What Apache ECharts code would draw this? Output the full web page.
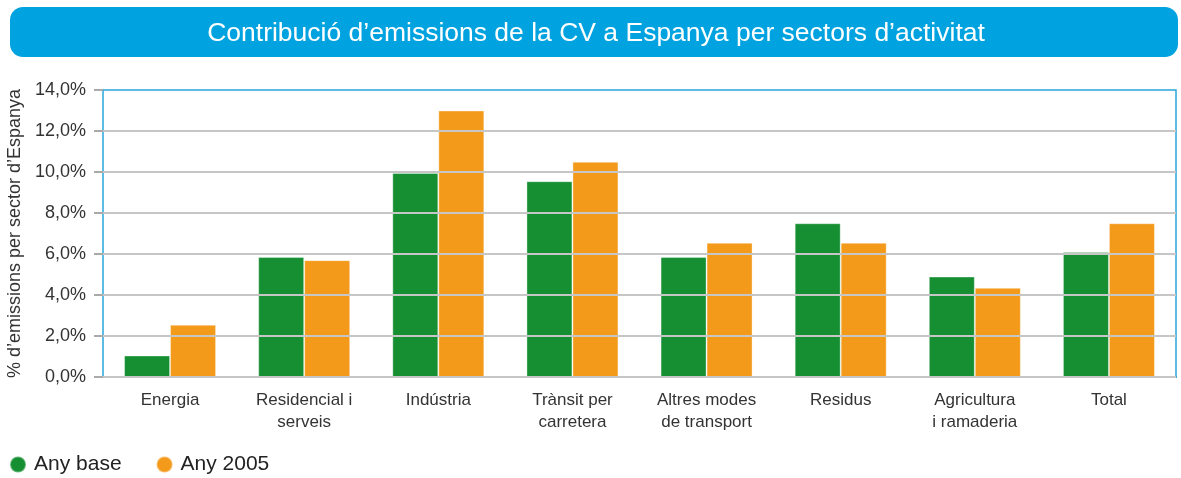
<!DOCTYPE html>
<html>
<head>
<meta charset="utf-8">
<script src="https://cdn.jsdelivr.net/npm/echarts@6/dist/echarts.min.js"></script>
<style>
  html, body { margin: 0; padding: 0; background: #fff; }
  #chart { width: 1181px; height: 478px; }
</style>
</head>
<body>
<div id="chart"></div>
<script>
const titleText = 'Contribució d\u2019emissions de la CV a Espanya per sectors d\u2019activitat'
const yAxisName = '% d\u2019emissions per sector d\u2019Espanya'

const categories = [
  'Energia',
  'Residencial i\nserveis',
  'Indústria',
  'Trànsit per\ncarretera',
  'Altres modes\nde transport',
  'Residus',
  'Agricultura\ni ramaderia',
  'Total'
]
const anyBase = [1.05, 5.85, 9.95, 9.55, 5.85, 7.5, 4.9, 6.1]
const any2005 = [2.55, 5.7, 13.0, 10.5, 6.55, 6.55, 4.35, 7.5]
const yTicks = [0, 2, 4, 6, 8, 10, 12, 14]

const green = '#158F32'
const orange = '#F39A1B'
const blue = '#2AA6DC'
const fontFamily = '"Liberation Sans", Arial, sans-serif'

const chart = echarts.init(document.getElementById('chart'))

chart.setOption({
  animation: false,
  textStyle: { fontFamily },
  graphic: [
    {
      type: 'rect',
      left: 10,
      top: 7,
      shape: { width: 1168, height: 50, r: 13 },
      style: { fill: '#00A3DF' }
    },
    {
      type: 'text',
      x: 596,
      y: 34,
      style: {
        text: titleText,
        fill: '#fff',
        font: '26.5px ' + fontFamily,
        align: 'center',
        verticalAlign: 'middle'
      }
    }
  ],
  legend: {
    left: 4,
    top: 449,
    icon: 'circle',
    itemWidth: 16,
    itemHeight: 16,
    itemGap: 34,
    textStyle: { fontSize: 21, color: '#222', fontFamily, padding: [0, 0, 0, 3] }
  },
  grid: {
    left: 103,
    right: 5,
    top: 90,
    bottom: 101,
    outerBoundsMode: 'none',
    show: true,
    borderColor: blue,
    borderWidth: 1.5
  },
  xAxis: {
    type: 'category',
    data: categories,
    axisLine: { lineStyle: { color: blue, width: 2 } },
    axisTick: { length: 10, lineStyle: { color: '#222', width: 1.5 } },
    axisLabel: {
      color: '#333',
      fontSize: 17,
      lineHeight: 22,
      margin: 12,
      fontFamily
    }
  },
  yAxis: {
    type: 'value',
    min: 0,
    max: 14,
    interval: 2,
    z: 3,
    name: yAxisName,
    nameLocation: 'middle',
    nameGap: 75,
    nameRotate: 90,
    nameTextStyle: { color: '#333', fontSize: 18, fontFamily },
    axisLine: { show: false },
    axisTick: { show: true, length: 9, lineStyle: { color: '#aaa', width: 2 } },
    axisLabel: {
      color: '#333',
      fontSize: 18,
      margin: 17,
      fontFamily,
      formatter: (v) => yTicks.includes(v) ? v.toFixed(1).replace('.', ',') + '%' : ''
    },
    splitLine: { showMaxLine: false, lineStyle: { color: '#c6c6c6', width: 2 } }
  },
  series: [
    {
      name: 'Any base',
      type: 'bar',
      data: anyBase,
      barWidth: 46,
      barGap: '0%',
      itemStyle: { color: green, borderColor: 'rgba(255,255,255,0.35)', borderWidth: 1 }
    },
    {
      name: 'Any 2005',
      type: 'bar',
      data: any2005,
      barWidth: 46,
      itemStyle: { color: orange, borderColor: 'rgba(255,255,255,0.35)', borderWidth: 1 }
    }
  ]
})
</script>
</body>
</html>
